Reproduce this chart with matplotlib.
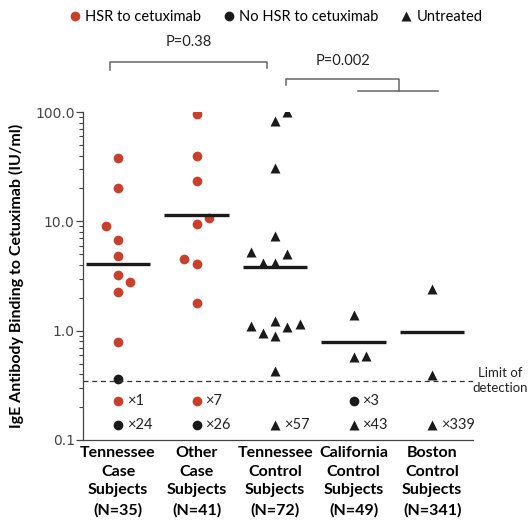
import matplotlib
matplotlib.use('Agg')
import matplotlib.pyplot as plt
from matplotlib.lines import Line2D
import numpy as np

plt.rcParams['font.family'] = ['Lato', 'DejaVu Sans']

groups = ['Tennessee\nCase\nSubjects\n(N=35)', 'Other\nCase\nSubjects\n(N=41)',
          'Tennessee\nControl\nSubjects\n(N=72)', 'California\nControl\nSubjects\n(N=49)',
          'Boston\nControl\nSubjects\n(N=341)']

# measured values (IU/ml)
tn_case_hsr = [38, 20, 9.0, 6.8, 4.8, 3.2, 2.8, 2.25, 0.78]
tn_case_nohsr = [0.36]
other_case_hsr = [96, 40, 23.5, 10.8, 9.4, 4.5, 4.1, 1.8]
tn_control = [99, 83, 30.5, 7.3, 5.2, 5.0, 4.2, 4.15, 1.22, 1.16, 1.11, 1.08, 0.95, 0.89, 0.43]
ca_control = [1.40, 0.575, 0.59]
boston_control = [2.42, 0.39]
medians = [4.1, 11.5, 3.8, 0.78, 0.97]
limit = 0.35

# counts below detection limit
row1 = [(0, 'hsr', '×1'), (1, 'hsr', '×7'), (3, 'nohsr', '×3')]
row2 = [(0, 'nohsr', '×24'), (1, 'nohsr', '×26'), (2, 'tri', '×57'), (3, 'tri', '×43'), (4, 'tri', '×339')]

# horizontal jitter (in units of one marker step)
tn_case_off = [0, 0, -1, 0, 0, 0, 1, 0, 0]
other_case_off = [0, 0, 0, 1, 0, -1, 0, 0]
tn_control_off = [1, 0, 0, 0, -2, 1, -1, 0, 0, 2, -2, 1, -1, 0, 0]
ca_off = [0, 0, 1]
boston_off = [0, 0]

red = '#c8402c'
blk = '#1a1a1a'
step = 0.156
ms = 7

fig = plt.figure(figsize=(5.28, 5.29), dpi=100)
ax = fig.add_axes([83/528, 1-440/529, 390/528, 328/529])
ax.set_yscale('log')
ax.set_ylim(0.1, 100)
ax.set_xlim(-0.446, 4.52)

def pts(i, vals, off, marker, color):
    x = i + np.array(off) * step
    ax.plot(x, vals, linestyle='none', marker=marker, ms=ms, color=color, mec='none')

pts(0, tn_case_hsr, tn_case_off, 'o', red)
pts(0, tn_case_nohsr, [0], 'o', blk)
pts(1, other_case_hsr, other_case_off, 'o', red)
pts(2, tn_control, tn_control_off, '^', blk)
pts(3, ca_control, ca_off, '^', blk)
pts(4, boston_control, boston_off, '^', blk)

for i, m in enumerate(medians):
    ax.plot([i - 0.41, i + 0.41], [m, m], color=blk, lw=2.4, solid_capstyle='butt')

ax.axhline(limit, color='#333333', lw=0.9, ls=(0, (4, 3)))
ax.text(5.215, limit, 'Limit of\ndetection', ha='right', va='center', multialignment='center',
        fontsize=9.5, color='#222222', clip_on=False, linespacing=1.3)

mk = {'hsr': ('o', red), 'nohsr': ('o', blk), 'tri': ('^', blk)}
for yv, row in [(0.226, row1), (0.136, row2)]:
    for i, kind, lab in row:
        m, c = mk[kind]
        ax.plot([i], [yv], marker=m, color=c, ms=ms, mec='none', linestyle='none')
        ax.text(i + 0.11, yv, lab, ha='left', va='center', fontsize=10.5, color='#222222')

# significance brackets
bk = '#666666'
y1, y1b = 286, 240
ax.plot([-0.1, -0.1, 1.9, 1.9], [y1b, y1, y1, y1b + 10], color=bk, lw=1.1, clip_on=False)
ax.text(0.9, 440, 'P=0.38', ha='center', va='center', fontsize=10.5, color='#222222')
y2, y2b, y2c = 200, 175, 155
ax.plot([2.14, 2.14, 3.58, 3.58], [y2b, y2, y2, y2c], color=bk, lw=1.1, clip_on=False)
ax.plot([3.06, 4.07], [y2c, y2c], color=bk, lw=1.1, clip_on=False)
ax.text(2.86, 290, 'P=0.002', ha='center', va='center', fontsize=10.5, color='#222222')

ax.set_yticks([0.1, 1, 10, 100])
ax.set_yticklabels(['0.1', '1.0', '10.0', '100.0'], fontsize=10, color='#444444',
                   family='DejaVu Sans')
ax.tick_params(axis='y', which='major', length=5, width=0.9, color='#444444', pad=1)
ax.tick_params(axis='y', which='minor', length=3, width=0.8, color='#444444')
ax.set_xticks(range(5))
ax.set_xticklabels(groups, fontsize=11.5, fontweight='bold', linespacing=1.45)
ax.tick_params(axis='x', length=0, pad=4)
ax.spines['top'].set_visible(False)
ax.spines['right'].set_visible(False)
for s in ['left', 'bottom']:
    ax.spines[s].set_color('#444444')
    ax.spines[s].set_linewidth(0.9)
ax.set_ylabel('IgE Antibody Binding to Cetuximab (IU/ml)', fontsize=11.5,
              fontweight='bold', labelpad=8)

handles = [Line2D([], [], marker='o', color=red, ls='none', ms=ms, mec='none'),
           Line2D([], [], marker='o', color=blk, ls='none', ms=ms, mec='none'),
           Line2D([], [], marker='^', color=blk, ls='none', ms=ms, mec='none')]
fig.legend(handles, ['HSR to cetuximab', 'No HSR to cetuximab', 'Untreated'],
           loc='upper center', bbox_to_anchor=(275/528, 1.005), ncol=3, frameon=False,
           fontsize=10.5, handletextpad=0.2, columnspacing=1.4, handlelength=1.0)

fig.savefig('out.png', dpi=100)
